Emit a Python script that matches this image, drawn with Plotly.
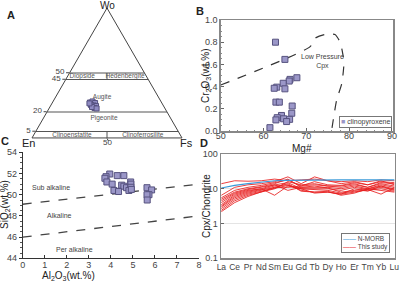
import plotly.graph_objects as go

# ---------------- Panel A (ternary Wo-En-Fs) ----------------
a_wo = [27.3, 28.1, 26.9, 25.4, 25.0, 24.6, 23.0, 23.8, 22.7, 26.6]
a_en = [47.7, 45.6, 44.5, 48.0, 46.5, 45.0, 46.8, 48.1, 45.6, 48.4]
a_fs = [25.0, 26.3, 28.6, 26.6, 28.5, 30.4, 30.2, 28.1, 31.7, 25.0]
a_ticks = [5, 20, 45, 50]
b_ticks = [50]
field_names = ["Diopside", "Hedenbergite", "Augite", "Pigeonite", "Clinoenstatite", "Clinoferrosilite"]
field_wo = [47.5, 47.5, 31.6, 14.8, 2.3, 2.3]
field_en = [42.8, 14.2, 37.5, 44.6, 72.2, 25.0]
field_fs = [9.7, 38.3, 30.9, 40.6, 25.5, 72.7]
div_upper_wo = [45, 50]
div_upper_en = [27.5, 25]
div_upper_fs = [27.5, 25]
div_lower_wo = [0, 5]
div_lower_en = [50, 47.5]
div_lower_fs = [50, 47.5]

# ---------------- Panel B (Mg# vs Cr2O3) ----------------
b_mg = [62.8, 65.0, 67.8, 66.2, 66.0, 64.6, 63.1, 62.5, 65.0, 62.9,
        63.7, 66.7, 66.6, 64.2, 63.2, 62.9, 64.7, 66.1, 65.4, 61.5]
b_cr = [0.80, 0.645, 0.48, 0.465, 0.45, 0.43, 0.395, 0.385, 0.38, 0.26,
        0.26, 0.225, 0.16, 0.14, 0.12, 0.10, 0.11, 0.105, 0.085, 0.03]
lp_mg = [50.0, 70.9, 72.0, 74.4, 76.7, 77.9, 78.5, 78.8, 78.3, 77.1, 75.9]
lp_cr = [0.414, 0.76, 0.835, 0.87, 0.87, 0.80, 0.70, 0.62, 0.43, 0.28, 0.0]

# ---------------- Panel C (Al2O3 vs SiO2) ----------------
c_al = [3.95, 3.78, 3.73, 3.82, 4.06, 4.29, 4.59, 4.49, 4.59, 4.14, 4.35,
        4.71, 4.90, 4.91, 4.91, 4.82, 4.93, 5.64, 5.85, 5.73, 5.64, 5.65]
c_si = [51.95, 51.7, 51.55, 51.2, 51.0, 51.8, 51.8, 50.9, 50.8, 50.4, 50.3,
        50.66, 51.2, 51.0, 50.7, 50.4, 50.5, 50.66, 50.45, 50.0, 50.0, 49.5]
sub_line_al = [0, 8]
sub_line_si = [49.1, 51.0]
per_line_al = [0, 8]
per_line_si = [46.0, 48.0]

# ---------------- Panel D (REE patterns) ----------------
ree = ["La", "Ce", "Pr", "Nd", "Sm", "Eu", "Gd", "Tb", "Dy", "Ho", "Er", "Tm", "Yb", "Lu"]
nmorb = [10.5, 12.5, 14.0, 15.5, 17.0, 17.5, 17.8, 18.0, 18.0, 18.0, 18.0, 18.0, 18.0, 18.0]
samples = [
    [14, 17, 16.5, 17, 19, 17, 18, 19, 17, 16, 17, 16, 18, 17],
    [6.5, 11, 13, 14, 16, 22, 14, 22, 17, 14, 16, 13, 17, 13],
    [5.5, 9, 11, 12.5, 15, 18, 12, 13, 12, 11, 13, 11, 14, 12],
    [5, 8, 10, 11.5, 14, 19, 11, 11, 11, 10, 12, 10, 12, 10],
    [4.5, 7.5, 9.5, 11, 13, 15, 10, 10, 10, 9, 11, 9.5, 11, 9.5],
    [4, 7, 9, 10, 13, 9, 11, 12, 10.5, 8, 9, 10, 13, 11],
    [3.5, 6.5, 8.5, 10, 6.5, 12, 10, 9.5, 9, 7.5, 8.5, 9, 10, 8.5],
    [3.2, 6, 8, 9.5, 12, 13, 9, 8, 8, 7, 8, 9.5, 7, 11],
    [3, 5.5, 7.5, 9, 11, 14, 8.5, 8, 8.5, 6.5, 7.5, 10, 9, 8],
    [2.7, 5, 7, 8.5, 10.5, 12.5, 10, 7.5, 8, 7, 10, 8.5, 12, 9],
    [2.4, 4.5, 6.5, 8, 10, 16, 13, 14, 12, 12, 14, 11, 15, 14],
    [2.2, 4, 6, 8, 11, 11, 12, 16, 13, 12.5, 15, 13, 16, 15],
]

FONT = "Liberation Sans, Arial, sans-serif"
MK_FILL = "#9b97c8"
MK = dict(symbol="square", size=6, color=MK_FILL, line=dict(color="#56527f", width=1))
RED = "rgba(232,30,30,0.85)"
BLUE = "#3a9ad9"
TXT = "#444"

fig = go.Figure()

# ---- A ----
fig.add_trace(go.Scatterternary(a=div_upper_wo, b=div_upper_en, c=div_upper_fs, mode="lines",
                                line=dict(color="#555", width=1), showlegend=False, hoverinfo="skip"))
fig.add_trace(go.Scatterternary(a=div_lower_wo, b=div_lower_en, c=div_lower_fs, mode="lines",
                                line=dict(color="#555", width=1), showlegend=False, hoverinfo="skip"))
fig.add_trace(go.Scatterternary(a=field_wo, b=field_en, c=field_fs, mode="text", text=field_names,
                                textfont=dict(size=6.5, color="#555", family=FONT), showlegend=False))
fig.add_trace(go.Scatterternary(a=a_wo, b=a_en, c=a_fs, mode="markers",
                                marker=dict(symbol="square", size=5, color="#8f8bc2",
                                            line=dict(color="#56527f", width=1)), showlegend=False))

# ---- B ----
fig.add_trace(go.Scatter(x=lp_mg, y=lp_cr, mode="lines", line=dict(color="#333", width=1.2, dash="dash",
                         shape="spline", smoothing=0.6), xaxis="x", yaxis="y", showlegend=False))
fig.add_trace(go.Scatter(x=b_mg, y=b_cr, mode="markers", marker=MK, name="clinopyroxene",
                         xaxis="x", yaxis="y", showlegend=False))

# ---- C ----
fig.add_trace(go.Scatter(x=sub_line_al, y=sub_line_si, mode="lines", line=dict(color="#444", width=1.3, dash="dash"),
                         xaxis="x2", yaxis="y2", showlegend=False))
fig.add_trace(go.Scatter(x=per_line_al, y=per_line_si, mode="lines", line=dict(color="#444", width=1.3, dash="dash"),
                         xaxis="x2", yaxis="y2", showlegend=False))
fig.add_trace(go.Scatter(x=c_al, y=c_si, mode="markers", marker=MK, xaxis="x2", yaxis="y2", showlegend=False))

# ---- D ----
for i, s in enumerate(samples):
    fig.add_trace(go.Scatter(x=ree, y=s, mode="lines", line=dict(color=RED, width=1),
                             xaxis="x3", yaxis="y3", name="This study", showlegend=False))
fig.add_trace(go.Scatter(x=ree, y=nmorb, mode="lines", line=dict(color=BLUE, width=1.2),
                         xaxis="x3", yaxis="y3", name="N-MORB", showlegend=False))

tick = dict(size=9, color=TXT, family=FONT)

fig.update_layout(
    width=400, height=281, autosize=False,
    margin=dict(l=0, r=0, t=0, b=0, autoexpand=False),
    paper_bgcolor="white", plot_bgcolor="white", showlegend=False,
    font=dict(family=FONT, color=TXT),
    ternary=dict(
        domain=dict(x=[0.08, 0.455], y=[1 - 138 / 281, 1 - 8 / 281]),
        sum=100, bgcolor="white",
        aaxis=dict(title=dict(text=""), tickvals=a_ticks, ticktext=[str(v) for v in a_ticks],
                   showgrid=True, gridcolor="#555", gridwidth=1, linecolor="#444", linewidth=1,
                   ticks="outside", ticklen=3, tickfont=dict(size=8, color=TXT)),
        baxis=dict(title=dict(text=""), tickvals=b_ticks, showticklabels=False,
                   showgrid=False, linecolor="#444", linewidth=1, ticks="outside", ticklen=3),
        caxis=dict(title=dict(text=""), tickvals=[], showgrid=False,
                   linecolor="#444", linewidth=1, ticks=""),
    ),
    xaxis=dict(domain=[0.5518, 0.9825], range=[50, 90.26], tickvals=[50, 60, 70, 80, 90],
               ticks="inside", ticklen=3, tickcolor="#666", showline=True, mirror=True, linecolor="#888",
               linewidth=1.5, showgrid=False, zeroline=False, tickfont=tick, ticklabelstandoff=-4,
               minor=dict(dtick=2, ticks="inside", ticklen=1.5, tickcolor="#888"), anchor="y"),
    yaxis=dict(domain=[1 - 131 / 281, 1 - 20 / 281], range=[0, 1.0], tickvals=[0, 0.2, 0.4, 0.6, 0.8, 1.0],
               tickformat=".1f", ticks="inside", ticklen=3, tickcolor="#666", showline=True, mirror=True,
               linecolor="#888", linewidth=1.5, showgrid=False, zeroline=False, tickfont=tick,
               minor=dict(dtick=0.05, ticks="inside", ticklen=1.5, tickcolor="#888"), anchor="x"),
    xaxis2=dict(domain=[22.7 / 400, 199 / 400], range=[0, 8], dtick=1, ticks="inside", ticklen=3,
                tickcolor="#333", showline=True, linecolor="#333", linewidth=1, showgrid=False,
                zeroline=False, tickfont=tick, ticklabelstandoff=-2, anchor="y2"),
    yaxis2=dict(domain=[1 - 258.3 / 281, 1 - 152.3 / 281], range=[44, 54], dtick=2, ticks="outside",
                ticklen=3, tickcolor="#333", showline=True, linecolor="#333", linewidth=1, showgrid=False,
                zeroline=False, tickfont=tick, minor=dict(dtick=0.5, ticks="outside", ticklen=1.5, tickcolor="#555"),
                anchor="x2"),
    xaxis3=dict(domain=[220.7 / 400, 395 / 400], type="category", range=[-0.05, 13.05], ticks="",
                showline=True, mirror=True, linecolor="#888", linewidth=1.2, showgrid=False, tickangle=0,
                tickfont=dict(size=8.5, color=TXT, family=FONT), anchor="y3"),
    yaxis3=dict(domain=[1 - 258.3 / 281, 1 - 154 / 281], type="log", range=[-1, 2],
                tickvals=[0.1, 1, 10, 100], ticktext=["0.1", "1", "10", "100"], ticks="inside", ticklen=3,
                tickcolor="#666", showline=True, mirror=True, linecolor="#888", linewidth=1.2,
                showgrid=True, gridcolor="#e4e4e4", gridwidth=1, zeroline=False, tickfont=tick, anchor="x3"),
)


def px(xp, yp):
    return xp / 400, 1 - yp / 281


ann = [
    ("<b>A</b>", 11, 15, 11), ("<b>B</b>", 200, 11, 11), ("<b>C</b>", 5, 141, 11), ("<b>D</b>", 204, 143, 11),
    ("Mg#", 302, 148, 10), ("Al<sub>2</sub>O<sub>3</sub>(wt.%)", 68, 276, 10),
    ("Wo", 107, 5, 10), ("En", 29, 143, 11), ("Fs", 186, 143, 11), ("50", 107, 142, 8),
]
for t, xp, yp, sz in ann:
    x, y = px(xp, yp)
    fig.add_annotation(text=t, x=x, y=y, xref="paper", yref="paper", showarrow=False,
                       font=dict(size=sz, color="#222" if sz > 8 else TXT, family=FONT),
                       xanchor="center", yanchor="middle")
rot = [("Cr<sub>2</sub>O<sub>3</sub>(wt.%)", 206, 76), ("SiO<sub>2</sub>(wt.%)", 5, 205),
       ("Cpx/Chondrite", 206, 206)]
for t, xp, yp in rot:
    x, y = px(xp, yp)
    fig.add_annotation(text=t, x=x, y=y, xref="paper", yref="paper", showarrow=False, textangle=-90,
                       font=dict(size=10, color="#222", family=FONT), xanchor="center", yanchor="middle")

# compact legends (boxed text)
x, y = px(392, 128)
fig.add_annotation(text=f'<span style="color:{MK_FILL}">■</span> clinopyroxene', x=x, y=y,
                   xref="paper", yref="paper", showarrow=False, xanchor="right", yanchor="bottom",
                   font=dict(size=7, color=TXT, family=FONT), bordercolor="#777", borderwidth=1,
                   borderpad=1, bgcolor="white", align="left")
x, y = px(390, 253)
fig.add_annotation(text=f'<span style="color:{BLUE}">——</span> N-MORB<br><span style="color:#e8242b">——</span> This study',
                   x=x, y=y, xref="paper", yref="paper", showarrow=False, xanchor="right", yanchor="bottom",
                   font=dict(size=6.5, color=TXT, family=FONT), bordercolor="#777", borderwidth=1,
                   borderpad=1, bgcolor="white", align="left")

# text labels in data coordinates
fig.add_annotation(text="Low Pressure<br>Cpx", x=73.9, y=0.625, xref="x", yref="y", showarrow=False,
                   font=dict(size=7, color="#444", family=FONT))
for t, xx, yy in [("Sub alkaline", 1.3, 50.66), ("Alkaline", 1.66, 48.0), ("Per alkaline", 2.37, 44.85)]:
    fig.add_annotation(text=t, x=xx, y=yy, xref="x2", yref="y2", showarrow=False,
                       font=dict(size=7, color="#444", family=FONT))

fig.write_html("out.html", config={"displayModeBar": False, "staticPlot": True},
               post_script="document.body.style.margin='0';document.body.style.padding='0';")
